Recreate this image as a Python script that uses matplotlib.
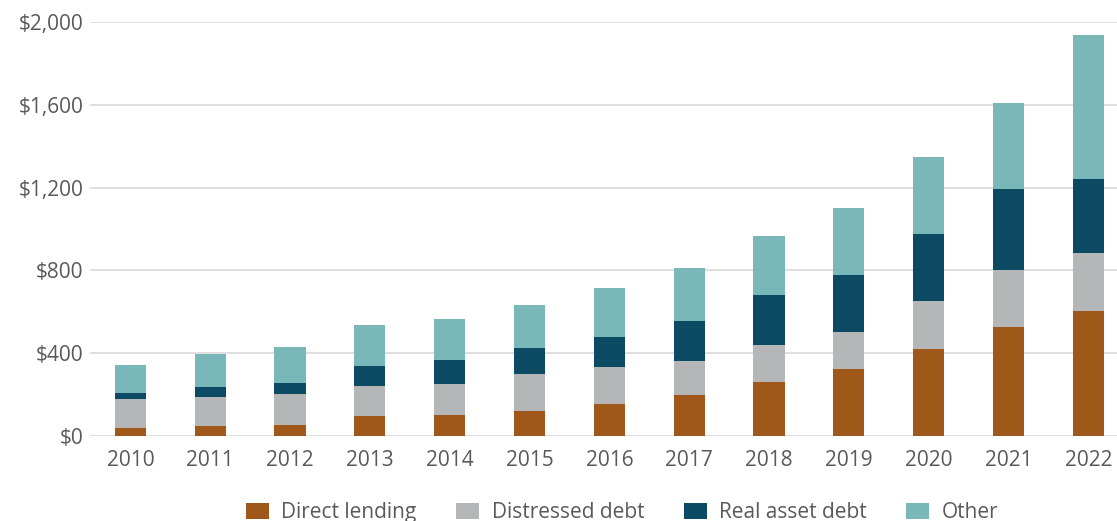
import matplotlib.pyplot as plt
from matplotlib.ticker import FuncFormatter

years = ["2010", "2011", "2012", "2013", "2014", "2015", "2016",
         "2017", "2018", "2019", "2020", "2021", "2022"]
direct_lending = [40, 48, 53, 97, 100, 122, 155, 198, 259, 322, 419, 527, 604]
distressed_debt = [137, 139, 150, 145, 151, 178, 180, 166, 179, 182, 235, 274, 278]
real_asset_debt = [29, 51, 54, 96, 116, 127, 142, 193, 242, 274, 322, 392, 359]
other = [137, 158, 174, 198, 197, 206, 236, 256, 286, 322, 373, 414, 696]

series = [
    ("Direct lending", direct_lending, "#a0581a"),
    ("Distressed debt", distressed_debt, "#b4b6b8"),
    ("Real asset debt", real_asset_debt, "#0c4a63"),
    ("Other", other, "#7ab7b9"),
]

plt.rcParams["font.family"] = ["Open Sans", "DejaVu Sans"]
text_color = "#595959"

fig = plt.figure(figsize=(11.17, 5.21), dpi=100)
ax = fig.add_axes([0.081, 0.163, 0.919, 0.795])

x = range(len(years))
bottom = [0] * len(years)
for name, vals, color in series:
    ax.bar(x, vals, width=0.39, bottom=bottom, color=color, label=name, zorder=3)
    bottom = [b + v for b, v in zip(bottom, vals)]

ax.set_ylim(0, 2000)
ax.set_xlim(-0.5, 12.36)
ax.set_yticks(range(0, 2001, 400))
ax.yaxis.set_major_formatter(FuncFormatter(lambda v, _: f"${v:,.0f}"))
ax.set_xticks(list(x))
ax.set_xticklabels(years)

ax.grid(axis="y", color="#dcdcdc", linewidth=1.3, zorder=0)
for s in ax.spines.values():
    s.set_visible(False)
ax.tick_params(axis="both", length=0, labelsize=15, colors=text_color)
ax.tick_params(axis="y", pad=5)
ax.tick_params(axis="x", pad=10)

fig.legend(loc="lower center", bbox_to_anchor=(0.557, -0.04), ncol=4,
           frameon=False, fontsize=15, labelcolor=text_color,
           handlelength=1.1, handleheight=0.8, handletextpad=0.6,
           columnspacing=1.9)

fig.savefig("out.png", dpi=100)
